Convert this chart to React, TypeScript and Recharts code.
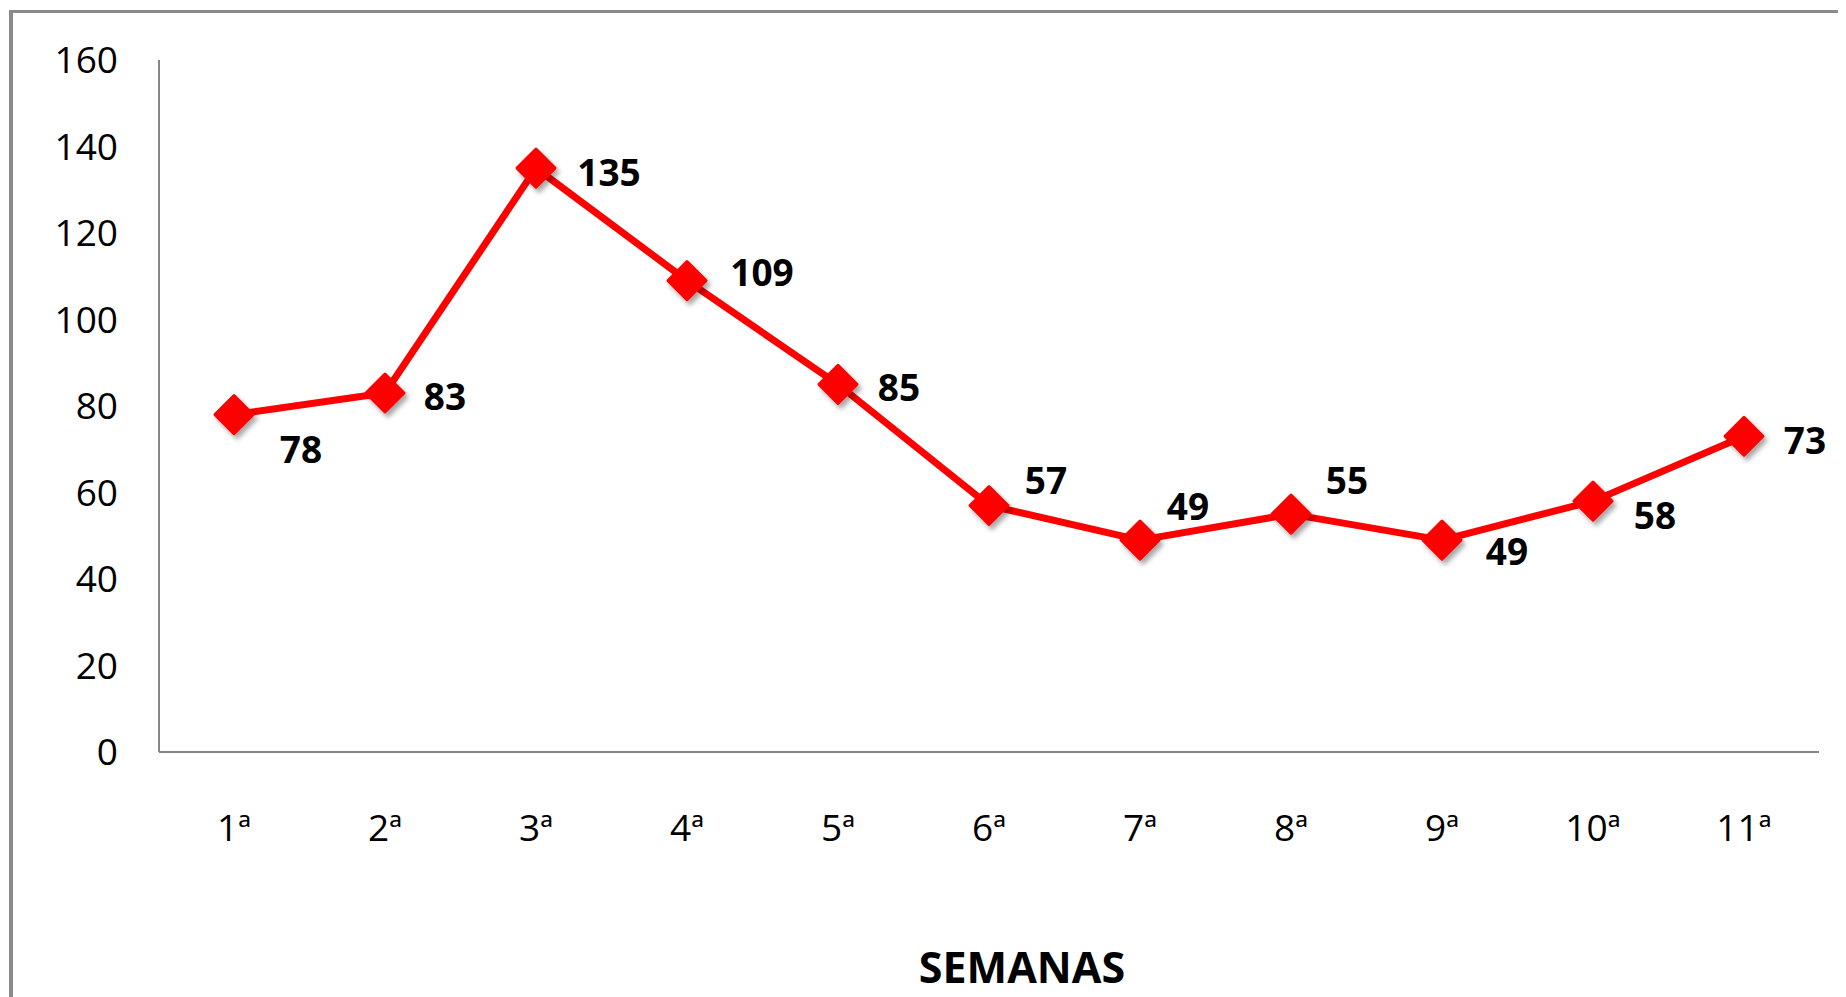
import React from "react";
import { LineChart, Line, XAxis, YAxis, Label } from "recharts";

const semanas = ["1ª", "2ª", "3ª", "4ª", "5ª", "6ª", "7ª", "8ª", "9ª", "10ª", "11ª"];
const valores = [78, 83, 135, 109, 85, 57, 49, 55, 49, 58, 73];
const yTicks = [0, 20, 40, 60, 80, 100, 120, 140, 160];

// where each data label sits relative to its marker (dx, dy)
const labelShift: [number, number][] = [
  [67, 34],
  [60, 2],
  [73, 3],
  [75, -9],
  [61, 2],
  [57, -26],
  [48, -35],
  [56, -35],
  [65, 10],
  [62, 13],
  [61, 3],
];

const chartData = semanas.map((s, i) => ({ semana: s, valor: valores[i] }));

const FONT = "'Open Sans', sans-serif";
const RED = "#ff0000";
const AXIS = "#868686";

function Diamond(props: any) {
  const { cx, cy, index } = props;
  if (cx == null || cy == null) return null;
  const r = 19;
  return (
    <path
      key={`d-${index}`}
      d={`M${cx},${cy - r} L${cx + r},${cy} L${cx},${cy + r} L${cx - r},${cy} Z`}
      fill={RED}
      stroke={RED}
      strokeWidth={3}
      strokeLinejoin="round"
      filter="url(#sombra)"
    />
  );
}

function ValueLabel(props: any) {
  const { x, y, value, index } = props;
  const [dx, dy] = labelShift[index] ?? [60, 0];
  return (
    <text
      x={x + dx}
      y={y + dy}
      textAnchor="middle"
      dominantBaseline="central"
      fontFamily={FONT}
      fontWeight={700}
      fontSize={37}
      fill="#000"
    >
      {value}
    </text>
  );
}

export default function App() {
  return (
    <div
      style={{
        marginTop: 2,
        marginLeft: 1,
        borderTop: "3px solid #8a8a8a",
        borderLeft: "4px solid #8a8a8a",
        width: 1825,
        height: 984,
        background: "#fff",
      }}
    >
      <LineChart
        width={1825}
        height={984}
        data={chartData}
        margin={{ top: 47, right: 19, left: 0, bottom: 0 }}
      >
        <defs>
          <filter id="sombra" x="-50%" y="-50%" width="200%" height="200%">
            <feDropShadow dx="3" dy="4" stdDeviation="2.5" floodColor="#000" floodOpacity="0.35" />
          </filter>
        </defs>
        <XAxis
          dataKey="semana"
          height={245}
          padding={{ left: 75, right: 75 }}
          axisLine={{ stroke: AXIS, strokeWidth: 2 }}
          tickLine={false}
          tickSize={0}
          tickMargin={63}
          interval={0}
          tick={{ fill: "#000", fontSize: 37, fontFamily: FONT }}
        >
          <Label
            value="SEMANAS"
            position="insideBottom"
            offset={14}
            dx={33}
            style={{ fill: "#000", fontSize: 43, fontWeight: 700, fontFamily: FONT }}
          />
        </XAxis>
        <YAxis
          width={146}
          domain={[0, 160]}
          ticks={yTicks}
          interval={0}
          axisLine={{ stroke: AXIS, strokeWidth: 2 }}
          tickLine={false}
          tickSize={0}
          tickMargin={41}
          tick={{ fill: "#000", fontSize: 37, fontFamily: FONT }}
        />
        <Line
          type="linear"
          dataKey="valor"
          stroke={RED}
          strokeWidth={7}
          strokeLinejoin="round"
          dot={<Diamond />}
          activeDot={false}
          label={<ValueLabel />}
          isAnimationActive={false}
        />
      </LineChart>
    </div>
  );
}
